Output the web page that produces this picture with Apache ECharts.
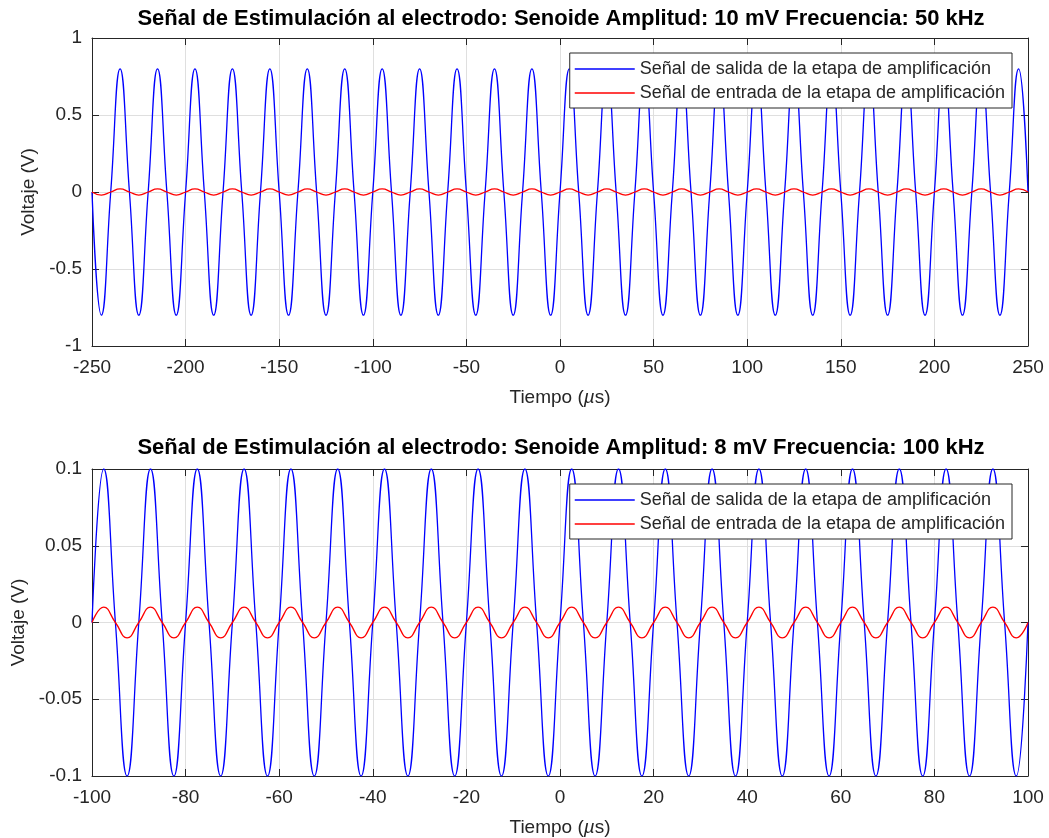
<!DOCTYPE html>
<html>
<head>
<meta charset="utf-8">
<script src="https://cdn.jsdelivr.net/npm/echarts@6/dist/echarts.min.js"></script>
<style>
html,body{margin:0;padding:0;background:#fff;}
#chart{width:1049px;height:838px;}
</style>
</head>
<body>
<div id="chart"></div>
<script>
// ---------- data ----------
const titleTop = 'Señal de Estimulación al electrodo: Senoide Amplitud: 10 mV Frecuencia: 50 kHz';
const titleBottom = 'Señal de Estimulación al electrodo: Senoide Amplitud: 8 mV Frecuencia: 100 kHz';
const seriesNames = ['Señal de salida de la etapa de amplificación', 'Señal de entrada de la etapa de amplificación'];

// top plot: time (µs), sampled at zero crossings and peaks
const timeTop = [-250,-245,-240,-235,-230,-225,-220,-215,-210,-205,-200,-195,-190,-185,-180,-175,-170,-165,-160,-155,-150,-145,-140,-135,-130,-125,-120,-115,-110,-105,-100,-95,-90,-85,-80,-75,-70,-65,-60,-55,-50,-45,-40,-35,-30,-25,-20,-15,-10,-5,0,5,10,15,20,25,30,35,40,45,50,55,60,65,70,75,80,85,90,95,100,105,110,115,120,125,130,135,140,145,150,155,160,165,170,175,180,185,190,195,200,205,210,215,220,225,230,235,240,245,250];
const outTop = [0,-0.8,0,0.8,0,-0.8,0,0.8,0,-0.8,0,0.8,0,-0.8,0,0.8,0,-0.8,0,0.8,0,-0.8,0,0.8,0,-0.8,0,0.8,0,-0.8,0,0.8,0,-0.8,0,0.8,0,-0.8,0,0.8,0,-0.8,0,0.8,0,-0.8,0,0.8,0,-0.8,0,0.8,0,-0.8,0,0.8,0,-0.8,0,0.8,0,-0.8,0,0.8,0,-0.8,0,0.8,0,-0.8,0,0.8,0,-0.8,0,0.8,0,-0.8,0,0.8,0,-0.8,0,0.8,0,-0.8,0,0.8,0,-0.8,0,0.8,0,-0.8,0,0.8,0,-0.8,0,0.8,0,-0.8,0,0.8,0];
const inTop = [0,-0.02,0,0.02,0,-0.02,0,0.02,0,-0.02,0,0.02,0,-0.02,0,0.02,0,-0.02,0,0.02,0,-0.02,0,0.02,0,-0.02,0,0.02,0,-0.02,0,0.02,0,-0.02,0,0.02,0,-0.02,0,0.02,0,-0.02,0,0.02,0,-0.02,0,0.02,0,-0.02,0,0.02,0,-0.02,0,0.02,0,-0.02,0,0.02,0,-0.02,0,0.02,0,-0.02,0,0.02,0,-0.02,0,0.02,0,-0.02,0,0.02,0,-0.02,0,0.02,0,-0.02,0,0.02,0,-0.02,0,0.02,0,-0.02,0,0.02,0,-0.02,0,0.02,0,-0.02,0,0.02,0,-0.02,0,0.02,0];

// bottom plot
const timeBottom = [-100,-97.5,-95,-92.5,-90,-87.5,-85,-82.5,-80,-77.5,-75,-72.5,-70,-67.5,-65,-62.5,-60,-57.5,-55,-52.5,-50,-47.5,-45,-42.5,-40,-37.5,-35,-32.5,-30,-27.5,-25,-22.5,-20,-17.5,-15,-12.5,-10,-7.5,-5,-2.5,0,2.5,5,7.5,10,12.5,15,17.5,20,22.5,25,27.5,30,32.5,35,37.5,40,42.5,45,47.5,50,52.5,55,57.5,60,62.5,65,67.5,70,72.5,75,77.5,80,82.5,85,87.5,90,92.5,95,97.5,100];
const outBottom = [0,0.1,0,-0.1,0,0.1,0,-0.1,0,0.1,0,-0.1,0,0.1,0,-0.1,0,0.1,0,-0.1,0,0.1,0,-0.1,0,0.1,0,-0.1,0,0.1,0,-0.1,0,0.1,0,-0.1,0,0.1,0,-0.1,0,0.1,0,-0.1,0,0.1,0,-0.1,0,0.1,0,-0.1,0,0.1,0,-0.1,0,0.1,0,-0.1,0,0.1,0,-0.1,0,0.1,0,-0.1,0,0.1,0,-0.1,0,0.1,0,-0.1,0,0.1,0,-0.1,0,0.1,0,-0.1,0];
const inBottom = [0,0.01,0,-0.01,0,0.01,0,-0.01,0,0.01,0,-0.01,0,0.01,0,-0.01,0,0.01,0,-0.01,0,0.01,0,-0.01,0,0.01,0,-0.01,0,0.01,0,-0.01,0,0.01,0,-0.01,0,0.01,0,-0.01,0,0.01,0,-0.01,0,0.01,0,-0.01,0,0.01,0,-0.01,0,0.01,0,-0.01,0,0.01,0,-0.01,0,0.01,0,-0.01,0,0.01,0,-0.01,0,0.01,0,-0.01,0,0.01,0,-0.01,0,0.01,0,-0.01,0,0.01,0,-0.01,0];

// axis ranges / tick steps
const xRangeTop = [-250, 250, 50];
const yRangeTop = [-1, 1, 0.5];
const xRangeBottom = [-100, 100, 20];
const yRangeBottom = [-0.1, 0.1, 0.05];

// ---------- chart ----------
const FONT = '"Liberation Sans", Arial, Helvetica, sans-serif';
const AX = '#262626';
const GRIDC = '#dfdfdf';
const TICK_FS = 19;

function pairs(t, v) { return t.map((x, i) => [x, v[i]]); }

function xAxes(gi, r) {
  const base = {
    gridIndex: gi, type: 'value', min: r[0], max: r[1], interval: r[2],
    axisLine: { show: true, onZero: false, lineStyle: { color: AX, width: 1 } },
    axisTick: { show: true, inside: true, length: 7, lineStyle: { color: AX, width: 1 } }
  };
  return [
    Object.assign({}, base, {
      position: 'bottom',
      axisLabel: { show: true, color: AX, fontSize: TICK_FS, fontFamily: FONT, margin: 12 },
      splitLine: { show: true, lineStyle: { color: GRIDC, width: 1 } },
      name: 'Tiempo ({i|µ}s)', nameLocation: 'middle', nameGap: 42,
      nameTextStyle: { color: AX, fontSize: TICK_FS, fontFamily: FONT,
        rich: { i: { fontStyle: 'italic', color: AX, fontSize: TICK_FS, fontFamily: FONT } } }
    }),
    Object.assign({}, base, {
      position: 'top',
      axisLabel: { show: false },
      splitLine: { show: false }
    })
  ];
}

function yAxes(gi, r, gap) {
  const base = {
    gridIndex: gi, type: 'value', min: r[0], max: r[1], interval: r[2],
    axisLine: { show: true, onZero: false, lineStyle: { color: AX, width: 1 } },
    axisTick: { show: true, inside: true, length: 7, lineStyle: { color: AX, width: 1 } }
  };
  return [
    Object.assign({}, base, {
      position: 'left',
      axisLabel: { show: true, color: AX, fontSize: TICK_FS, fontFamily: FONT, margin: 10 },
      splitLine: { show: true, lineStyle: { color: GRIDC, width: 1 } },
      name: 'Voltaje (V)', nameLocation: 'middle', nameGap: gap,
      nameTextStyle: { color: AX, fontSize: TICK_FS, fontFamily: FONT }
    }),
    Object.assign({}, base, {
      position: 'right',
      axisLabel: { show: false },
      splitLine: { show: false }
    })
  ];
}

function lineSeries(name, xi, yi, data, color) {
  return {
    name: name, type: 'line', xAxisIndex: xi, yAxisIndex: yi,
    data: data, smooth: true, symbol: 'none', showSymbol: false,
    lineStyle: { color: color, width: 1.3 }, itemStyle: { color: color },
    clip: true, z: 3
  };
}

function legend(top) {
  return {
    orient: 'vertical', right: 37, top: top,
    data: seriesNames,
    icon: 'rect',
    itemWidth: 60, itemHeight: 1.5, itemGap: 6,
    padding: [7, 7, 6, 5],
    backgroundColor: '#ffffff', borderColor: AX, borderWidth: 1,
    selectedMode: false,
    textStyle: { color: AX, fontSize: 18, fontFamily: FONT, lineHeight: 18 },
    z: 10
  };
}

const chart = echarts.init(document.getElementById('chart'), null, { renderer: 'canvas' });
chart.setOption({
  animation: false,
  backgroundColor: '#ffffff',
  title: [
    { text: titleTop, left: 561, top: 8, textAlign: 'center', padding: 0,
      textStyle: { fontSize: 22, fontWeight: 'bold', color: '#000', fontFamily: FONT } },
    { text: titleBottom, left: 561, top: 437, textAlign: 'center', padding: 0,
      textStyle: { fontSize: 22, fontWeight: 'bold', color: '#000', fontFamily: FONT } }
  ],
  grid: [
    { left: 92, right: 21, top: 38, height: 308, containLabel: false },
    { left: 92, right: 21, top: 469, height: 307, containLabel: false }
  ],
  xAxis: xAxes(0, xRangeTop).concat(xAxes(1, xRangeBottom)),
  yAxis: yAxes(0, yRangeTop, 52).concat(yAxes(1, yRangeBottom, 62)),
  legend: [legend(53), legend(484)],
  series: [
    lineSeries(seriesNames[0], 0, 0, pairs(timeTop, outTop), '#0000ff'),
    lineSeries(seriesNames[1], 0, 0, pairs(timeTop, inTop), '#ff0000'),
    lineSeries(seriesNames[0], 2, 2, pairs(timeBottom, outBottom), '#0000ff'),
    lineSeries(seriesNames[1], 2, 2, pairs(timeBottom, inBottom), '#ff0000')
  ]
});
</script>
</body>
</html>
